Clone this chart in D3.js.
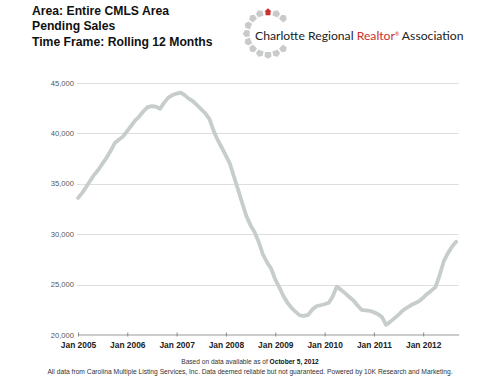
<!DOCTYPE html>
<html>
<head>
<meta charset="utf-8">
<script src="https://cdn.jsdelivr.net/npm/d3@7"></script>
<style>
  html, body { margin: 0; padding: 0; background: #fff; }
  svg { display: block; }
</style>
</head>
<body>
<svg id="chart" width="500" height="386"></svg>
<script>
// ---- data ----
const titleLines = ["Area: Entire CMLS Area", "Pending Sales", "Time Frame: Rolling 12 Months"];
const startMonth = "2005-01";
const pendingSales = [
  33600, 34100, 34650, 35300, 35900, 36400, 37000, 37600, 38300, 39050, 39400, 39700,
  40250, 40800, 41300, 41700, 42200, 42600, 42700, 42650, 42450, 43050, 43550, 43800,
  43950, 44050, 43800, 43450, 43200, 42800, 42400, 42000, 41450, 40300, 39350, 38600,
  37800, 36950, 35700, 34400, 33100, 31800, 30900, 30200, 29200, 28000, 27200, 26600,
  25500, 24700, 23900, 23200, 22700, 22300, 21950, 21900, 22000, 22500, 22850, 22950,
  23050, 23200, 23800, 24800, 24500, 24150, 23800, 23450, 22950, 22500, 22450, 22400,
  22250, 22050, 21800, 21000, 21300, 21650, 22000, 22400, 22700, 22950, 23150, 23350,
  23700, 24100, 24400, 24750, 25900, 27300, 28100, 28750, 29250
];
const yTicks = [20000, 25000, 30000, 35000, 40000, 45000];
const xTickYears = [2005, 2006, 2007, 2008, 2009, 2010, 2011, 2012];
const footerDate = "October 5, 2012";

// ---- setup ----
const svg = d3.select("#chart");
const parse = d3.timeParse("%Y-%m");
const t0 = parse(startMonth);
const data = pendingSales.map((v, i) => ({ date: d3.timeMonth.offset(t0, i), value: v }));

const x = d3.scaleTime()
  .domain([t0, new Date(2012, 8, 20)])
  .range([78, 458.7]);
const y = d3.scaleLinear()
  .domain([20000, 45000])
  .range([335, 83]);

// titles
svg.append("g").selectAll("text").data(titleLines).join("text")
  .attr("x", 32).attr("y", (d, i) => 15 + i * 15.3)
  .style("font-family", "'Liberation Sans', Arial, sans-serif")
  .style("font-weight", "bold").style("font-size", "12.2px").attr("fill", "#111")
  .text(d => d);

// logo
const logo = svg.append("g").attr("transform", "translate(268,33.5)");
const ringAngles = d3.range(16).filter(k => k < 3 || k > 5).map(k => k * 22.5);
const hexPath = "M0,-3.8 L3.6,-1.4 L2.9,3.1 L-2.9,3.1 L-3.6,-1.4 Z";
logo.selectAll("path.ring").data(ringAngles.filter(a => a !== 0)).join("path")
  .attr("class", "ring")
  .attr("d", hexPath)
  .attr("transform", a => {
    const r = 21.5, rad = a * Math.PI / 180;
    return `translate(${r * Math.sin(rad)},${-r * Math.cos(rad)}) rotate(${a})`;
  })
  .attr("fill", "#c9cbca");
// house at top
logo.append("path")
  .attr("d", "M0,-3.8 L3.6,-0.5 L2.5,-0.5 L2.5,3.2 L-2.5,3.2 L-2.5,-0.5 L-3.6,-0.5 Z")
  .attr("transform", "translate(0,-21.5)")
  .attr("fill", "#c8312f");
const logoText = svg.append("text")
  .attr("x", 255).attr("y", 39.5)
  .style("font-family", "Lato, 'Open Sans', sans-serif")
  .style("font-size", "12.2px").attr("fill", "#222");
logoText.append("tspan").text("Charlotte Regional ");
logoText.append("tspan").attr("fill", "#c8312f").text("Realtor");
logoText.append("tspan").attr("fill", "#c8312f").attr("dy", -4).style("font-size", "5px").text("®");
logoText.append("tspan").attr("dy", 4).text(" Association");

// grid lines
svg.append("g").selectAll("line").data(yTicks.filter(d => d > 20000)).join("line")
  .attr("x1", 77).attr("x2", 458.7)
  .attr("y1", d => Math.round(y(d)) + 0.5).attr("y2", d => Math.round(y(d)) + 0.5)
  .attr("stroke", "#dedede").attr("stroke-width", 1);

// y labels
svg.append("g").selectAll("text").data(yTicks).join("text")
  .attr("x", 74).attr("y", d => y(d) + 2.6)
  .attr("text-anchor", "end")
  .style("font-family", "'Liberation Sans', Arial, sans-serif")
  .style("font-size", "7.6px").attr("fill", "#555")
  .text(d => d3.format(",")(d));

// x axis
const xAxis = d3.axisBottom(x)
  .tickValues(xTickYears.map(yr => new Date(yr, 0, 1)))
  .tickFormat(d3.timeFormat("Jan %Y"))
  .tickSizeInner(2).tickSizeOuter(0).tickPadding(6);
const gx = svg.append("g").attr("transform", "translate(0,334.5)").call(xAxis);
gx.select(".domain").attr("stroke", "#9a9a9a").attr("stroke-width", 1.2);
gx.selectAll(".tick line").attr("stroke", "#8a8a8a").attr("y1", -2).attr("y2", 2);
gx.selectAll(".tick text")
  .style("font-family", "'Liberation Sans', Arial, sans-serif")
  .style("font-weight", "bold").style("font-size", "8.4px").attr("fill", "#222");

// line
const line = d3.line().x(d => x(d.date)).y(d => y(d.value)).curve(d3.curveLinear);
svg.append("path").datum(data)
  .attr("d", line)
  .attr("fill", "none")
  .attr("stroke", "#c6cdcb")
  .attr("stroke-width", 3.8)
  .attr("stroke-linejoin", "round")
  .attr("stroke-linecap", "round");

// footer
const f1 = svg.append("text").attr("x", 250).attr("y", 363.5).attr("text-anchor", "middle")
  .style("font-family", "'Liberation Sans', Arial, sans-serif")
  .style("font-size", "6.6px").attr("fill", "#333");
f1.append("tspan").text("Based on data available as of ");
f1.append("tspan").style("font-weight", "bold").attr("fill", "#111").text(footerDate);
svg.append("text").attr("x", 250).attr("y", 373.5).attr("text-anchor", "middle")
  .style("font-family", "'Liberation Sans', Arial, sans-serif")
  .style("font-size", "6.7px").attr("fill", "#333")
  .text("All data from Carolina Multiple Listing Services, Inc. Data deemed reliable but not guaranteed. Powered by 10K Research and Marketing.");
</script>
</body>
</html>
